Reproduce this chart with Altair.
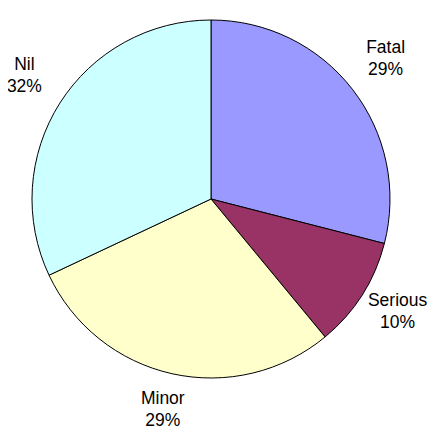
import altair as alt
import pandas as pd

categories = ["Fatal", "Serious", "Minor", "Nil"]
values = [29, 10, 29, 32]
colors = ["#9999FF", "#993366", "#FFFFCC", "#CCFFFF"]

df = pd.DataFrame({
    "cat": categories,
    "val": values,
    "order": list(range(len(categories))),
    "label": [f"{c}\n{v}%" for c, v in zip(categories, values)],
})

base = alt.Chart(df).encode(
    theta=alt.Theta("val:Q", stack=True),
    order=alt.Order("order:Q"),
    x=alt.value(203),
    y=alt.value(191),
)

pie = base.mark_arc(radius=179, stroke="black", strokeWidth=1).encode(
    color=alt.Color("cat:N", scale=alt.Scale(domain=categories, range=colors), legend=None)
)

text = base.mark_text(
    radius=221, font="Liberation Sans", fontSize=17.5, lineBreak="\n", lineHeight=22,
    color="black", align="center", baseline="middle", dy=-16
).encode(text="label:N")

chart = (pie + text).properties(
    width=419, height=422, padding=0, autosize=alt.AutoSizeParams(type="none")
).configure_view(stroke=None)

chart.save("out.html", embed_options={"renderer": "svg", "actions": False})
